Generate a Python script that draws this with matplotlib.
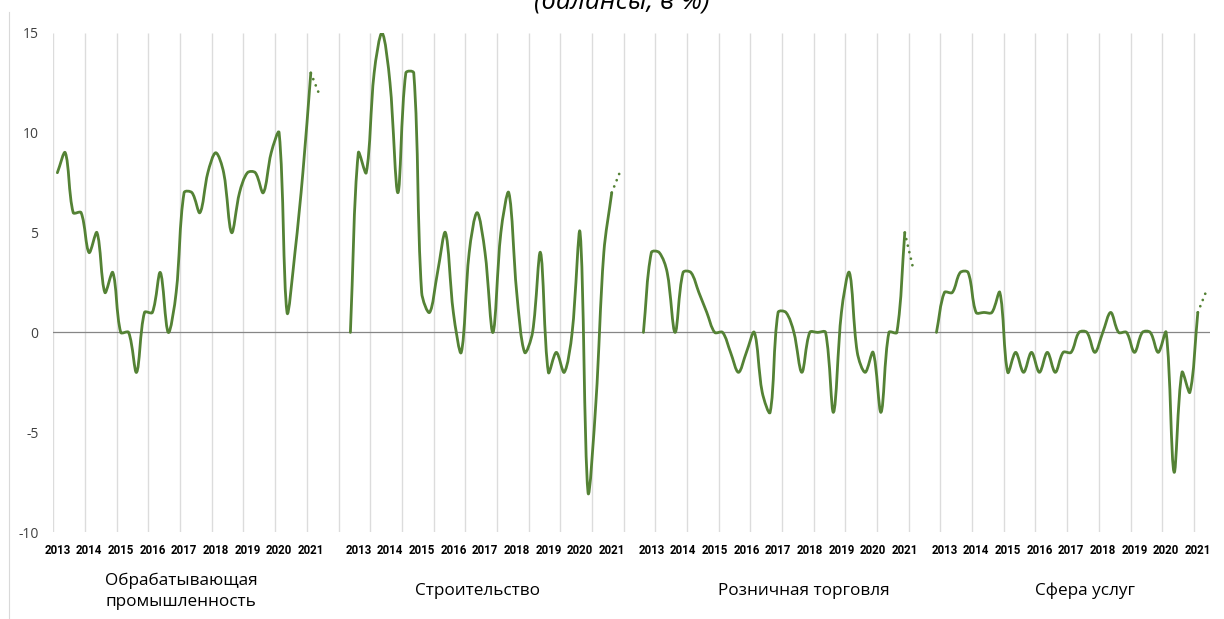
import numpy as np
import matplotlib
matplotlib.use("Agg")
import matplotlib.pyplot as plt
from matplotlib.path import Path
from matplotlib.patches import PathPatch
from matplotlib.lines import Line2D
import matplotlib.transforms as mtransforms
from matplotlib import font_manager

# ---------------- data ----------------
title = "(балансы, в %)"
sectors = ["Обрабатывающая\nпромышленность", "Строительство",
           "Розничная торговля", "Сфера услуг"]
years = [2013, 2014, 2015, 2016, 2017, 2018, 2019, 2020, 2021]
first_quarter = ["2013Q1", "2012Q4", "2012Q4", "2012Q4"]

manufacturing = [8, 9, 6, 6, 4, 5, 2, 3, 0, 0, -2, 1, 1, 3, 0, 2,
                 7, 7, 6, 8, 9, 8, 5, 7, 8, 8, 7, 9, 10, 1, 4, 8, 13]
construction = [0, 9, 8, 13, 15, 12.5, 7, 13, 13, 2, 1, 3, 5, 1, -1, 4, 6,
                4, 0, 5, 7, 2, -1, 0, 4, -2, -1, -2, 0, 5, -8, -3.5, 4, 7]
retail = [0, 4, 4, 3, 0, 3, 3, 2, 1, 0, 0, -1, -2, -1, 0, -3, -4,
          1, 1, 0, -2, 0, 0, 0, -4, 1, 3, -1, -2, -1, -4, 0, 0, 5]
services = [0, 2, 2, 3, 3, 1, 1, 1, 2, -2, -1, -2, -1, -2, -1, -2, -1,
            -1, 0, 0, -1, 0, 1, 0, 0, -1, 0, 0, -1, 0, -7, -2, -3, 1]
forecast = [12, 8, 3.3, 2]

series = [manufacturing, construction, retail, services]

# ---------------- layout / style ----------------
W, H = 1224, 619
GREEN = "#548235"
block_start = [0, 37, 74, 111]   # category slot where each panel begins
n_slots = 146
YMIN, YMAX = -10, 15

fig = plt.figure(figsize=(W / 100, H / 100), dpi=100)
ax_left, ax_right, ax_top, ax_bottom = 53.4, 1209.7, 33, 532
ax = fig.add_axes([ax_left / W, (H - ax_bottom) / H,
                   (ax_right - ax_left) / W, (ax_bottom - ax_top) / H])
ax.set_xlim(-0.5, n_slots - 0.5)
ax.set_ylim(YMIN, YMAX)
for s in ax.spines.values():
    s.set_visible(False)

# pixel size of one data unit (used only to shape the smoothed curve)
SX = (ax_right - ax_left) / n_slots
SY = (ax_bottom - ax_top) / (YMAX - YMIN)

# vertical gridlines every 4 quarters
ax.vlines(np.arange(-0.5, n_slots, 4), YMIN, YMAX, color="#dcdcdc", lw=1.0, zorder=0)
ax.axhline(0, color="#868686", lw=0.9, zorder=1)

ax.set_yticks([-10, -5, 0, 5, 10, 15])
ax.set_yticklabels(["-10", "-5", "0", "5", "10", "15"])
ax.tick_params(axis="y", length=0, pad=10.8, labelsize=10, labelcolor="#404040")
for lab in ax.get_yticklabels():
    lab.set_fontfamily(["Open Sans", "DejaVu Sans"])
ax.set_xticks([])


def smooth_path(xs, ys):
    """Excel-like smoothed line: Bezier segments whose control arms are
    proportional to the neighbouring segment lengths (in screen space)."""
    pts = np.column_stack([np.asarray(xs, float) * SX, np.asarray(ys, float) * SY])
    n = len(pts)
    before = np.zeros_like(pts)
    after = np.zeros_like(pts)
    for i in range(n):
        pp = pts[i - 1] if i > 0 else pts[i]
        pn = pts[i + 1] if i < n - 1 else pts[i]
        t = pn - pp
        dp = np.hypot(*(pts[i] - pp))
        dn = np.hypot(*(pn - pts[i]))
        tot = dp + dn if dp + dn > 0 else 1.0
        after[i] = pts[i] + t * (dn / tot) / 3.0
        before[i] = pts[i] - t * (dp / tot) / 3.0
    verts = [pts[0]]
    codes = [Path.MOVETO]
    for i in range(n - 1):
        verts += [after[i], before[i + 1], pts[i + 1]]
        codes += [Path.CURVE4] * 3
    verts = np.array(verts)
    verts[:, 0] /= SX
    verts[:, 1] /= SY
    return Path(verts, codes)


for vals, start, fc in zip(series, block_start, forecast):
    xs = start + np.arange(len(vals))
    patch = PathPatch(smooth_path(xs, vals), transform=ax.transData, fill=False,
                      edgecolor=GREEN, lw=2.0, capstyle="round", joinstyle="round",
                      zorder=3)
    ax.add_patch(patch)
    ax.plot([xs[-1], xs[-1] + 1], [vals[-1], fc], color=GREEN, lw=2.0,
            ls=(0, (0.01, 2.4)), dash_capstyle="round", zorder=3)

# year labels
names = {f.name for f in font_manager.fontManager.ttflist}
if "Liberation Sans Narrow" in names:
    yfont, ysize = ["Liberation Sans Narrow", "DejaVu Sans"], 10.0
else:
    yfont, ysize = ["Roboto", "DejaVu Sans"], 8.3

trans = mtransforms.blended_transform_factory(ax.transData, fig.transFigure)
for start, fq in zip(block_start, first_quarter):
    q1_offset = 0 if fq.endswith("Q1") else 1
    for k, yr in enumerate(years):
        ax.text(start + q1_offset + 4 * k, 1 - 550 / H, str(yr), transform=trans,
                ha="center", va="center", fontsize=ysize, fontweight="bold",
                family=yfont, color="#000000")

# sector labels
sector_x = [181, 477, 804, 1085]
for name, px in zip(sectors, sector_x):
    fig.text(px / W, 1 - 591 / H, name, ha="center", va="center", fontsize=12.3,
             family=["Open Sans", "DejaVu Sans"], color="#000000", linespacing=1.4)

# title (partially cropped at the top, as in the source)
fig.text(622 / W, 1 - 10 / H, title, ha="center", va="baseline", fontsize=19,
         style="italic", family=["Open Sans", "DejaVu Sans"], color="#000000")

# chart-area left border
fig.add_artist(Line2D([8.7 / W, 8.7 / W], [0, 1 - 12 / H], transform=fig.transFigure,
                      color="#d9d9d9", lw=0.8))

fig.savefig("out.png", dpi=100)
